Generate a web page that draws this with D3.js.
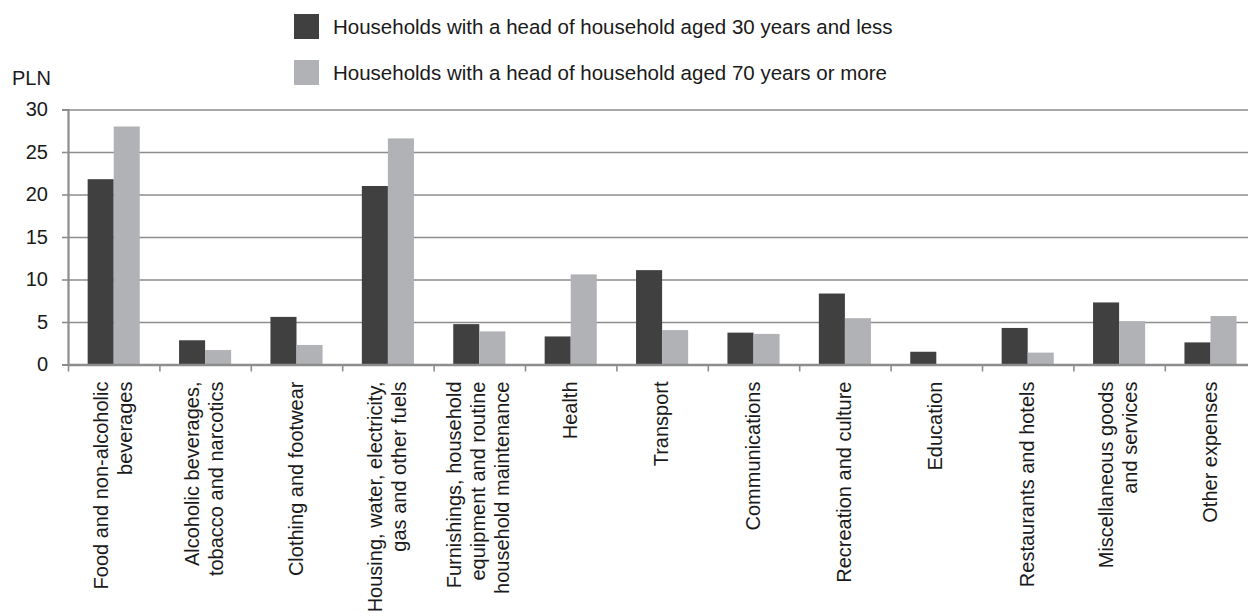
<!DOCTYPE html>
<html lang="en">
<head>
  <meta charset="UTF-8">
  <title>Expenditure by age of head of household</title>
  <style>
    body { margin: 0; background: #fff; }
    svg text { font-family: "Liberation Sans", Arial, sans-serif; fill: #1a1a1a; }
  </style>
</head>
<body>
<div id="chart"></div>

<script src="https://cdn.jsdelivr.net/npm/d3@7/dist/d3.min.js"></script>
<script>
  // data
  const categories = [
    "Food and non-alcoholic|beverages",
    "Alcoholic beverages,|tobacco and narcotics",
    "Clothing and footwear",
    "Housing, water, electricity,|gas and other fuels",
    "Furnishings, household|equipment and routine|household maintenance",
    "Health",
    "Transport",
    "Communications",
    "Recreation and culture",
    "Education",
    "Restaurants and hotels",
    "Miscellaneous goods|and services",
    "Other expenses"
  ];
  const seriesNames = [
    "Households with a head of household aged 30 years and less",
    "Households with a head of household aged 70 years or more"
  ];
  const young = [21.8, 2.85, 5.6, 21.0, 4.75, 3.3, 11.1, 3.75, 8.35, 1.5, 4.3, 7.3, 2.6];
  const old = [28.0, 1.7, 2.3, 26.6, 3.9, 10.6, 4.05, 3.6, 5.45, 0, 1.4, 5.1, 5.7];
  const yTicks = [0, 5, 10, 15, 20, 25, 30];
  const colors = ["#404040", "#b1b2b5"];

  const W = 1248, H = 616;
  const margin = {top: 109.5, left: 68, bottom: 251.5};
  const plotW = 13 * 91.4;
  const plotH = H - margin.top - margin.bottom;

  const svg = d3.select("#chart").append("svg")
    .attr("width", W)
    .attr("height", H);

  const g = svg.append("g")
    .attr("transform", "translate(" + margin.left + "," + margin.top + ")");

  const x0 = d3.scaleBand()
    .domain(categories)
    .range([0, plotW])
    .paddingInner(0.43)
    .paddingOuter(0.215);

  const x1 = d3.scaleBand()
    .domain([0, 1])
    .range([0, x0.bandwidth()]);

  const y = d3.scaleLinear()
    .domain([0, 30])
    .range([plotH, 0]);

  // gridlines
  g.append("g")
    .attr("class", "grid")
    .call(d3.axisLeft(y).tickValues(yTicks.slice(1)).tickSize(-plotW).tickFormat(""))
    .call(s => s.select(".domain").remove())
    .call(s => s.selectAll("line").attr("stroke", "#8d8d8d").attr("stroke-width", 1.6));

  // bars
  const rows = categories.map((c, i) => ({cat: c, vals: [young[i], old[i]]}));
  g.append("g").selectAll("g")
    .data(rows)
    .join("g")
    .attr("transform", d => "translate(" + x0(d.cat) + ",0)")
    .selectAll("rect")
    .data(d => d.vals.map((v, k) => ({k: k, v: v})))
    .join("rect")
    .attr("x", d => x1(d.k))
    .attr("width", x1.bandwidth())
    .attr("y", d => y(d.v))
    .attr("height", d => plotH - y(d.v))
    .attr("fill", d => colors[d.k]);

  // y axis
  g.append("g")
    .call(d3.axisLeft(y).tickValues(yTicks).tickSize(6).tickPadding(14))
    .call(s => s.select(".domain").attr("stroke", "#8d8d8d").attr("stroke-width", 2.2))
    .call(s => s.selectAll(".tick line").attr("stroke", "#8d8d8d").attr("stroke-width", 1.6))
    .call(s => s.selectAll(".tick text")
      .attr("font-size", 20)
      .style("font-family", "'Liberation Sans', Arial, sans-serif")
      .attr("fill", "#1a1a1a"));

  // x axis: ticks at category boundaries
  const xb = d3.scaleLinear().domain([0, categories.length]).range(x0.range());
  g.append("g")
    .attr("transform", "translate(0," + plotH + ")")
    .call(d3.axisBottom(xb).tickValues(d3.range(categories.length + 1)).tickSize(7).tickSizeOuter(0).tickFormat(""))
    .call(s => s.select(".domain").attr("stroke", "#8d8d8d").attr("stroke-width", 2.4))
    .call(s => s.selectAll(".tick line").attr("stroke", "#8d8d8d").attr("stroke-width", 1.6));

  // category labels, rotated and wrapped
  const lineH = 24;
  const labels = g.append("g").selectAll("text")
    .data(categories)
    .join("text")
    .attr("transform", d => "translate(" + (x0(d) + x0.bandwidth() / 2) + "," + (plotH + 17) + ") rotate(-90)")
    .attr("text-anchor", "end")
    .attr("font-size", 20);

  labels.each(function(d) {
    const lines = d.split("|");
    const t = d3.select(this);
    lines.forEach((ln, i) => {
      t.append("tspan")
        .attr("x", 0)
        .attr("y", (i - (lines.length - 1) / 2) * lineH + 6)
        .text(ln);
    });
  });

  // unit label
  svg.append("text")
    .attr("x", 12)
    .attr("y", 85)
    .attr("font-size", 20)
    .text("PLN");

  // legend
  const legend = svg.append("g");
  seriesNames.forEach((name, i) => {
    const ly = 14 + i * 46;
    legend.append("rect")
      .attr("x", 294)
      .attr("y", ly)
      .attr("width", 25)
      .attr("height", 25)
      .attr("fill", colors[i]);
    legend.append("text")
      .attr("x", 333)
      .attr("y", ly + 19.5)
      .attr("font-size", 20.5)
      .text(name);
  });
</script>
</body>
</html>
